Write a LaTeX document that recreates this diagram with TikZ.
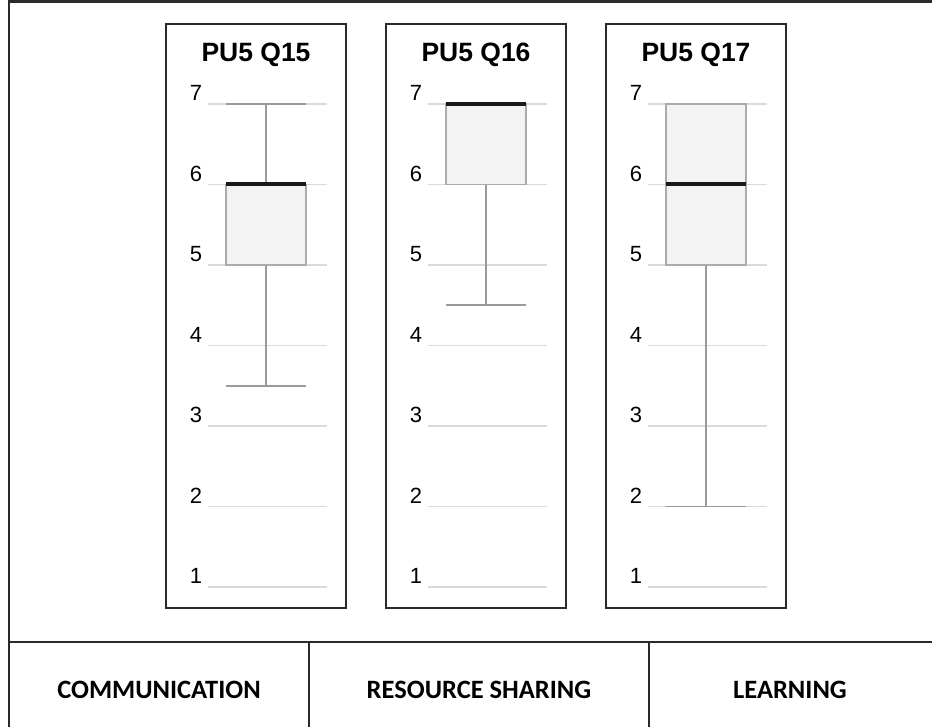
\documentclass[tikz,border=0pt]{standalone}
\usepackage{fontspec}
\setmainfont{Liberation Sans}
\newfontfamily\tablefont{Carlito}
\definecolor{gridgray}{HTML}{DADADA}
\definecolor{boxedge}{HTML}{ABABAB}
\definecolor{boxfill}{HTML}{F3F3F3}
\definecolor{whisk}{HTML}{9A9A9A}
\definecolor{frame}{HTML}{2A2A2A}
\tikzset{
  panel/.style={draw=frame, line width=2pt, fill=white},
  gridln/.style={draw=gridgray, line width=1.4pt},
  boxstyle/.style={draw=boxedge, fill=boxfill, line width=1.6pt},
  whiskln/.style={draw=whisk, line width=1.6pt},
  medianln/.style={draw=black!90, line width=4pt},
  title/.style={font=\fontsize{26.5}{31}\selectfont\bfseries, inner sep=0pt},
  ticklbl/.style={font=\fontsize{22}{26}\selectfont, inner sep=0pt},
  rule/.style={draw=frame, line width=2.6pt},
  cell/.style={font=\tablefont\fontsize{26.5}{31}\selectfont\bfseries, inner sep=0pt}
}
% vertical position of a value on the 1..7 scale (pixels from top)
\newcommand{\vy}[1]{\fpeval{104+(7-(#1))*80.5}}
\begin{document}
\begin{tikzpicture}[x=1pt, y=-1pt]
\useasboundingbox (0,0) rectangle (932,727);
\fill[white] (0,0) rectangle (932,727);

% outer frame and bottom table
\draw[rule] (9,1.3) -- (932,1.3);
\draw[rule] (9,0) -- (9,727);
\draw[rule] (9,642) -- (932,642);
\draw[rule] (309,642) -- (309,727);
\draw[rule] (649,642) -- (649,727);
\node[cell] (comm) at (159,690) {COMMUNICATION};
\node[cell] (share) at (479,690) {RESOURCE SHARING};
\node[cell] (learn) at (790,690) {LEARNING};

% one box-plot panel: left edge, title, lower whisker, Q1, Q3, median, upper whisker, name
\foreach \px/\ttl/\lo/\qa/\qb/\med/\hi/\nm in {
    166/PU5 Q15/3.5/5/6/6/7/a,
    386/PU5 Q16/4.5/6/7/7/7/b,
    606/PU5 Q17/2/5/7/6/7/c} {
  \draw[panel] (\px,24) rectangle ++(180,584);
  \node[title] (title\nm) at (\px+90,55) {\ttl};
  \foreach \v in {1,...,7} {
    \node[ticklbl] (tick\nm\v) at (\px+30,\vy{\v}-11) {\v};
    \draw[gridln] (\px+42,\vy{\v}) -- (\px+161,\vy{\v});
  }
  % whiskers and caps
  \draw[whiskln] (\px+100,\vy{\lo}) -- (\px+100,\vy{\hi});
  \draw[whiskln] (\px+60,\vy{\lo}) -- (\px+140,\vy{\lo});
  \draw[whiskln] (\px+60,\vy{\hi}) -- (\px+140,\vy{\hi});
  % interquartile box and median
  \draw[boxstyle] (\px+60,\vy{\qa}) rectangle (\px+140,\vy{\qb});
  \draw[medianln] (\px+60,\vy{\med}) -- (\px+140,\vy{\med});
}
\end{tikzpicture}
\end{document}
